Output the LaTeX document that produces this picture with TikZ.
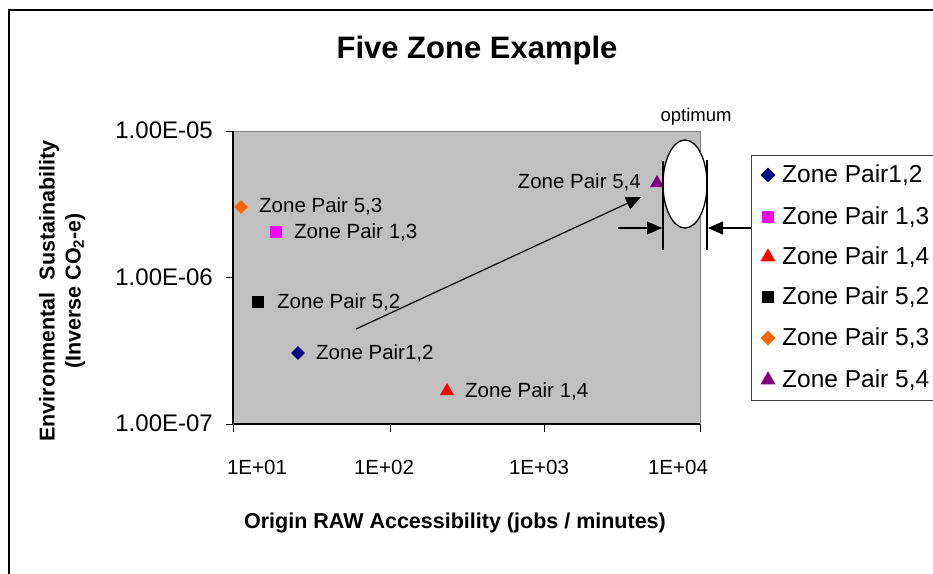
\documentclass[tikz,border=0pt]{standalone}
\usepackage{fontspec}
\setmainfont{Liberation Sans}
\usetikzlibrary{arrows.meta,shapes.geometric}

\definecolor{plotgray}{HTML}{C0C0C0}
\definecolor{edgegray}{HTML}{808080}
\definecolor{navyblue}{HTML}{000080}
\definecolor{pink}{HTML}{FF00FF}
\definecolor{brightred}{HTML}{FF0000}
\definecolor{orangish}{HTML}{FF6600}
\definecolor{plum}{HTML}{800080}

\tikzset{
  ptlabel/.style={font=\fontsize{20.5}{24}\selectfont, inner sep=0pt},
  keylabel/.style={font=\fontsize{24.5}{28}\selectfont, inner sep=0pt, anchor=west},
  ytick/.style={font=\fontsize{24}{28}\selectfont, inner sep=0pt, anchor=east},
  xtick/.style={font=\fontsize{20.5}{24}\selectfont, inner sep=0pt},
  axistitle/.style={font=\bfseries\fontsize{21.5}{26}\selectfont, inner sep=0pt, align=center},
  dmark/.style={diamond, inner sep=0pt, minimum width=14pt, minimum height=14pt, fill=#1},
  smark/.style={rectangle, inner sep=0pt, minimum size=11.5pt, fill=#1},
  tmark/.style={isosceles triangle, isosceles triangle apex angle=60, shape border rotate=90,
                inner sep=0pt, minimum height=12pt, minimum width=14pt, fill=#1},
  arr/.style={line width=1.2pt, -{Triangle[length=15pt,width=13pt]}},
  bar/.style={line width=1.3pt},
}

\begin{document}
\begin{tikzpicture}[x=1pt, y=-1pt]
\useasboundingbox (0,0) rectangle (933,573);
\clip (0,0) rectangle (933,573);
\fill[white] (0,0) rectangle (933,573);

% chart frame
\draw[line width=1.3pt] (9,10) rectangle (960,600);

% title
\node[font=\bfseries\fontsize{31}{36}\selectfont, inner sep=0pt] (title) at (477,50) {Five Zone Example};

% plot area
\fill[plotgray] (233,131) rectangle (700,424);
\draw[edgegray, line width=1pt] (233,131) -- (700,131) -- (700,424);
\draw[line width=1.1pt] (233,131) -- (233,424) -- (700,424);

% y ticks and labels
\foreach \yy in {131,277,424} \draw[line width=1pt] (226,\yy) -- (233,\yy);
\node[ytick] (y5) at (213,130) {1.00E-05};
\node[ytick] (y6) at (213,277) {1.00E-06};
\node[ytick] (y7) at (213,423) {1.00E-07};

% x ticks and labels
\foreach \xx in {233,390,544,700} \draw[line width=1pt] (\xx,424) -- (\xx,432);
\node[xtick] (x1) at (257,467) {1E+01};
\node[xtick] (x2) at (384,467) {1E+02};
\node[xtick] (x3) at (539,467) {1E+03};
\node[xtick] (x4) at (678,467) {1E+04};

% axis titles
\node[axistitle] (xtitle) at (455,523) {Origin RAW Accessibility (jobs / minutes)};
\node[axistitle, rotate=90] (ytitle) at (62,291)
  {Environmental\ \ Sustainability\\(Inverse CO\textsubscript{2}-e)};

% data points
\node[dmark=navyblue] (p12) at (298,353) {};
\node[smark=pink] (p13) at (276,232) {};
\node[tmark=brightred] (p14) at (447,391) {};
\node[smark=black] (p52) at (258,302) {};
\node[dmark=orangish] (p53) at (241,207) {};
\node[tmark=plum] (p54) at (657,183) {};

\node[ptlabel, anchor=west] (l12) at (316,353) {Zone Pair1,2};
\node[ptlabel, anchor=west] (l13) at (294,232) {Zone Pair 1,3};
\node[ptlabel, anchor=west] (l14) at (465,391) {Zone Pair 1,4};
\node[ptlabel, anchor=west] (l52) at (277,302) {Zone Pair 5,2};
\node[ptlabel, anchor=west] (l53) at (259,206) {Zone Pair 5,3};
\node[ptlabel, anchor=east] (l54) at (641,182) {Zone Pair 5,4};

% trend arrow toward the optimum
\coordinate (trendS) at (356,329);
\coordinate (trendE) at (641,197);
\draw[arr] (trendS) -- (trendE);

% optimum region
\node[ellipse, draw, fill=white, line width=1.3pt, inner sep=0pt,
      minimum width=44pt, minimum height=88pt] (opt) at (685,184) {};
\node[font=\fontsize{18.5}{22}\selectfont, inner sep=0pt] (optlbl) at (696,117) {optimum};

\coordinate (barLtop) at (663,161);
\coordinate (barLbot) at (663,250);
\coordinate (barRtop) at (707,160);
\coordinate (barRbot) at (707,250);
\draw[bar] (barLtop) -- (barLbot);
\draw[bar] (barRtop) -- (barRbot);

\coordinate (inL) at (618,228);
\coordinate (tipL) at (662,228);
\coordinate (inR) at (751,228);
\coordinate (tipR) at (708,228);
\draw[arr] (inL) -- (tipL);
\draw[arr] (inR) -- (tipR);

% legend
\draw[fill=white, draw=black!75, line width=1pt] (751,155) rectangle (980,400);
\begin{scope}[dmark/.append style={minimum width=15pt, minimum height=15pt},
              smark/.append style={minimum size=12pt},
              tmark/.append style={minimum width=14pt, minimum height=13pt}]
\node[dmark=navyblue] (k12) at (768,175) {};
\node[smark=pink] (k13) at (768,217) {};
\node[tmark=brightred] (k14) at (768,257) {};
\node[smark=black] (k52) at (768,297) {};
\node[dmark=orangish] (k53) at (768,338) {};
\node[tmark=plum] (k54) at (768,380) {};
\end{scope}
\node[keylabel] (t12) at (782,175) {Zone Pair1,2};
\node[keylabel] (t13) at (782,217) {Zone Pair 1,3};
\node[keylabel] (t14) at (782,257) {Zone Pair 1,4};
\node[keylabel] (t52) at (782,297) {Zone Pair 5,2};
\node[keylabel] (t53) at (782,338) {Zone Pair 5,3};
\node[keylabel] (t54) at (782,380) {Zone Pair 5,4};
\end{tikzpicture}
\end{document}
